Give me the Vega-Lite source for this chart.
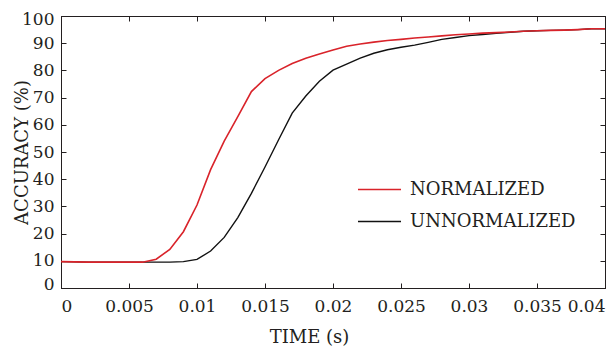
{
  "$schema": "https://vega.github.io/schema/vega-lite/v6.json",
  "width": 544,
  "height": 272,
  "autosize": {"type": "none"},
  "padding": {"left": 61, "top": 16, "right": 5, "bottom": 59},
  "background": "#ffffff",
  "config": {
    "view": {"stroke": "#231f20", "strokeWidth": 1},
    "font": "DejaVu Serif",
    "axis": {"labelFont": "DejaVu Serif", "titleFont": "DejaVu Serif", "labelColor": "#231f20", "titleColor": "#231f20", "domainColor": "#231f20", "tickColor": "#231f20", "labelFontSize": 17, "titleFontSize": 18, "titleFontWeight": "normal", "grid": false, "labelOverlap": false},
    "legend": {"labelFont": "DejaVu Serif", "labelFontSize": 18, "labelColor": "#231f20"}
  },
  "datasets": {
    "acc": [
      {"t": 0.000, "acc": 9.7, "s": "UNNORMALIZED"},
      {"t": 0.001, "acc": 9.6, "s": "UNNORMALIZED"},
      {"t": 0.002, "acc": 9.5, "s": "UNNORMALIZED"},
      {"t": 0.003, "acc": 9.5, "s": "UNNORMALIZED"},
      {"t": 0.004, "acc": 9.5, "s": "UNNORMALIZED"},
      {"t": 0.005, "acc": 9.5, "s": "UNNORMALIZED"},
      {"t": 0.006, "acc": 9.5, "s": "UNNORMALIZED"},
      {"t": 0.007, "acc": 9.5, "s": "UNNORMALIZED"},
      {"t": 0.008, "acc": 9.5, "s": "UNNORMALIZED"},
      {"t": 0.009, "acc": 9.7, "s": "UNNORMALIZED"},
      {"t": 0.010, "acc": 10.5, "s": "UNNORMALIZED"},
      {"t": 0.011, "acc": 13.6, "s": "UNNORMALIZED"},
      {"t": 0.012, "acc": 18.6, "s": "UNNORMALIZED"},
      {"t": 0.013, "acc": 25.9, "s": "UNNORMALIZED"},
      {"t": 0.014, "acc": 34.8, "s": "UNNORMALIZED"},
      {"t": 0.015, "acc": 44.5, "s": "UNNORMALIZED"},
      {"t": 0.016, "acc": 54.5, "s": "UNNORMALIZED"},
      {"t": 0.017, "acc": 64.3, "s": "UNNORMALIZED"},
      {"t": 0.018, "acc": 70.6, "s": "UNNORMALIZED"},
      {"t": 0.019, "acc": 76.0, "s": "UNNORMALIZED"},
      {"t": 0.020, "acc": 80.1, "s": "UNNORMALIZED"},
      {"t": 0.021, "acc": 82.3, "s": "UNNORMALIZED"},
      {"t": 0.022, "acc": 84.5, "s": "UNNORMALIZED"},
      {"t": 0.023, "acc": 86.3, "s": "UNNORMALIZED"},
      {"t": 0.024, "acc": 87.6, "s": "UNNORMALIZED"},
      {"t": 0.025, "acc": 88.5, "s": "UNNORMALIZED"},
      {"t": 0.026, "acc": 89.3, "s": "UNNORMALIZED"},
      {"t": 0.027, "acc": 90.3, "s": "UNNORMALIZED"},
      {"t": 0.028, "acc": 91.4, "s": "UNNORMALIZED"},
      {"t": 0.029, "acc": 92.1, "s": "UNNORMALIZED"},
      {"t": 0.030, "acc": 92.8, "s": "UNNORMALIZED"},
      {"t": 0.031, "acc": 93.2, "s": "UNNORMALIZED"},
      {"t": 0.032, "acc": 93.6, "s": "UNNORMALIZED"},
      {"t": 0.033, "acc": 94.0, "s": "UNNORMALIZED"},
      {"t": 0.034, "acc": 94.4, "s": "UNNORMALIZED"},
      {"t": 0.035, "acc": 94.6, "s": "UNNORMALIZED"},
      {"t": 0.036, "acc": 94.7, "s": "UNNORMALIZED"},
      {"t": 0.037, "acc": 94.8, "s": "UNNORMALIZED"},
      {"t": 0.038, "acc": 95.0, "s": "UNNORMALIZED"},
      {"t": 0.039, "acc": 95.3, "s": "UNNORMALIZED"},
      {"t": 0.040, "acc": 95.3, "s": "UNNORMALIZED"},
      {"t": 0.000, "acc": 9.7, "s": "NORMALIZED"},
      {"t": 0.001, "acc": 9.6, "s": "NORMALIZED"},
      {"t": 0.002, "acc": 9.5, "s": "NORMALIZED"},
      {"t": 0.003, "acc": 9.5, "s": "NORMALIZED"},
      {"t": 0.004, "acc": 9.5, "s": "NORMALIZED"},
      {"t": 0.005, "acc": 9.5, "s": "NORMALIZED"},
      {"t": 0.006, "acc": 9.5, "s": "NORMALIZED"},
      {"t": 0.007, "acc": 10.6, "s": "NORMALIZED"},
      {"t": 0.008, "acc": 14.2, "s": "NORMALIZED"},
      {"t": 0.009, "acc": 20.7, "s": "NORMALIZED"},
      {"t": 0.010, "acc": 30.5, "s": "NORMALIZED"},
      {"t": 0.011, "acc": 43.5, "s": "NORMALIZED"},
      {"t": 0.012, "acc": 54.0, "s": "NORMALIZED"},
      {"t": 0.013, "acc": 63.0, "s": "NORMALIZED"},
      {"t": 0.014, "acc": 72.2, "s": "NORMALIZED"},
      {"t": 0.015, "acc": 77.0, "s": "NORMALIZED"},
      {"t": 0.016, "acc": 80.0, "s": "NORMALIZED"},
      {"t": 0.017, "acc": 82.5, "s": "NORMALIZED"},
      {"t": 0.018, "acc": 84.5, "s": "NORMALIZED"},
      {"t": 0.019, "acc": 86.0, "s": "NORMALIZED"},
      {"t": 0.020, "acc": 87.5, "s": "NORMALIZED"},
      {"t": 0.021, "acc": 88.9, "s": "NORMALIZED"},
      {"t": 0.022, "acc": 89.7, "s": "NORMALIZED"},
      {"t": 0.023, "acc": 90.4, "s": "NORMALIZED"},
      {"t": 0.024, "acc": 91.0, "s": "NORMALIZED"},
      {"t": 0.025, "acc": 91.4, "s": "NORMALIZED"},
      {"t": 0.026, "acc": 91.9, "s": "NORMALIZED"},
      {"t": 0.027, "acc": 92.3, "s": "NORMALIZED"},
      {"t": 0.028, "acc": 92.7, "s": "NORMALIZED"},
      {"t": 0.029, "acc": 93.1, "s": "NORMALIZED"},
      {"t": 0.030, "acc": 93.4, "s": "NORMALIZED"},
      {"t": 0.031, "acc": 93.7, "s": "NORMALIZED"},
      {"t": 0.032, "acc": 93.9, "s": "NORMALIZED"},
      {"t": 0.033, "acc": 94.1, "s": "NORMALIZED"},
      {"t": 0.034, "acc": 94.4, "s": "NORMALIZED"},
      {"t": 0.035, "acc": 94.6, "s": "NORMALIZED"},
      {"t": 0.036, "acc": 94.7, "s": "NORMALIZED"},
      {"t": 0.037, "acc": 94.8, "s": "NORMALIZED"},
      {"t": 0.038, "acc": 95.0, "s": "NORMALIZED"},
      {"t": 0.039, "acc": 95.3, "s": "NORMALIZED"},
      {"t": 0.040, "acc": 95.3, "s": "NORMALIZED"}
    ]
  },
  "data": {"name": "acc"},
  "encoding": {
    "color": {"field": "s", "type": "nominal",
      "scale": {"domain": ["NORMALIZED", "UNNORMALIZED"], "range": ["#d9232a", "#111111"]},
      "legend": {"orient": "none", "legendX": 296, "legendY": 151, "title": null, "symbolType": "stroke", "symbolSize": 1850, "symbolStrokeWidth": 1.5, "labelOffset": 8, "rowPadding": -16, "labelLimit": 300, "labelFont": "DejaVu Serif"}}
  },
  "layer": [
    {
      "transform": [{"filter": "datum.s === 'UNNORMALIZED'"}],
      "mark": {"type": "line", "strokeWidth": 1.4, "clip": true},
      "encoding": {
        "x": {"field": "t", "type": "quantitative", "scale": {"domain": [0, 0.04], "nice": false, "zero": false},
          "axis": {"orient": "bottom", "values": [0, 0.005, 0.01, 0.015, 0.02, 0.025, 0.03, 0.035, 0.04], "format": "~g", "labelFlush": true, "tickSize": -5, "labelPadding": 15, "title": "TIME (s)", "titleX": 248, "titleY": 54, "titleAnchor": null, "titleAlign": "center", "titleBaseline": "alphabetic"}},
        "y": {"field": "acc", "type": "quantitative", "scale": {"domain": [0, 100], "nice": false},
          "axis": {"orient": "left", "values": [0, 10, 20, 30, 40, 50, 60, 70, 80, 90, 100], "labelFlush": true, "labelFlushOffset": 5, "tickSize": -5, "labelPadding": 12, "title": "ACCURACY (%)", "titleX": -39, "titleY": 136, "titleAngle": -90, "titleAlign": "center", "titleBaseline": "middle"}},
        "order": {"field": "t", "type": "quantitative"}
      }
    },
    {
      "transform": [{"filter": "datum.s === 'NORMALIZED'"}],
      "mark": {"type": "line", "strokeWidth": 1.6, "clip": true},
      "encoding": {
        "x": {"field": "t", "type": "quantitative", "scale": {"domain": [0, 0.04], "nice": false, "zero": false},
          "axis": {"orient": "top", "values": [0, 0.005, 0.01, 0.015, 0.02, 0.025, 0.03, 0.035, 0.04], "labels": false, "tickSize": -5, "title": null}},
        "y": {"field": "acc", "type": "quantitative", "scale": {"domain": [0, 100], "nice": false},
          "axis": {"orient": "right", "values": [0, 10, 20, 30, 40, 50, 60, 70, 80, 90, 100], "labels": false, "tickSize": -5, "title": null}},
        "order": {"field": "t", "type": "quantitative"}
      }
    }
  ],
  "resolve": {"axis": {"x": "independent", "y": "independent"}}
}
